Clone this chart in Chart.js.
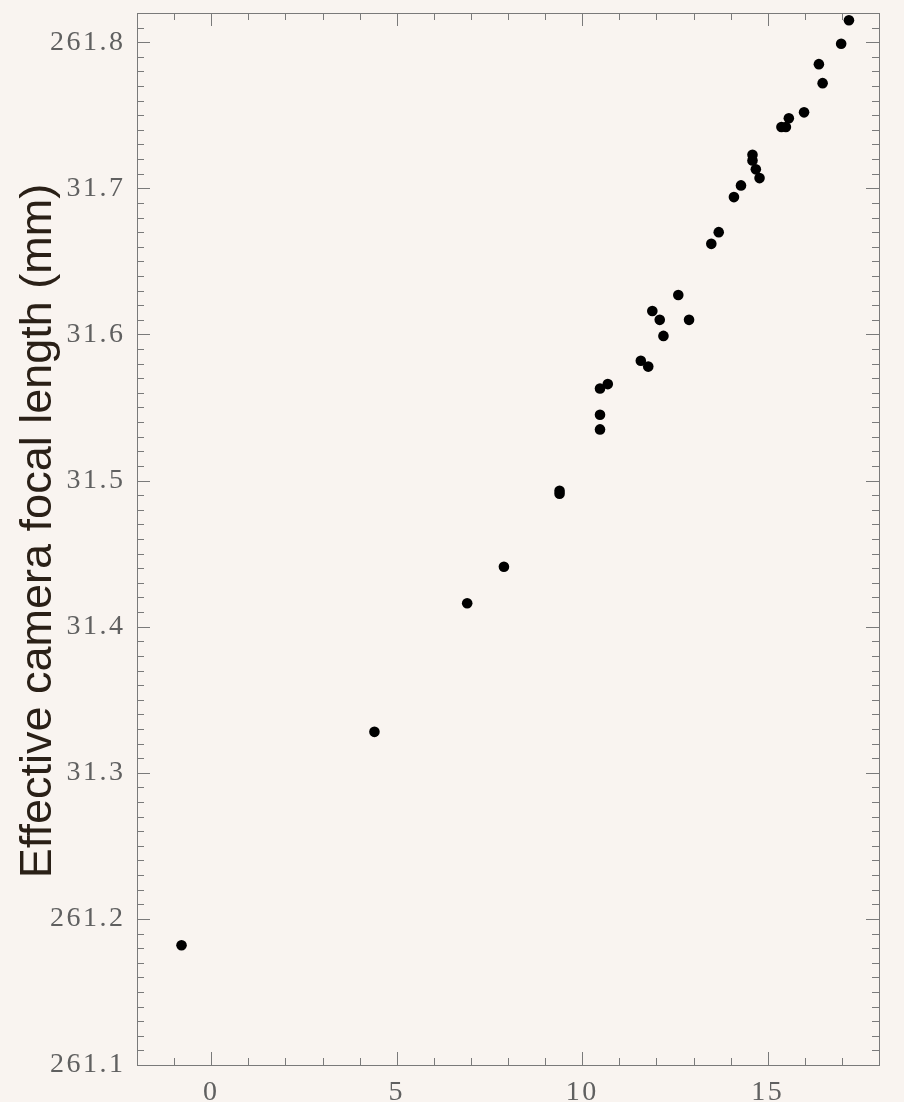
<!DOCTYPE html>
<html>
<head>
<meta charset="utf-8">
<script src="https://cdn.jsdelivr.net/npm/chart.js@4.4.1/dist/chart.umd.min.js"></script>
<style>
  html, body { margin: 0; padding: 0; background: #f9f4f0; }
  #wrap { width: 904px; height: 1102px; }
</style>
</head>
<body>
<div id="wrap"><canvas id="c" width="904" height="1102"></canvas></div>
<script>
// Temperature offset (x) against effective camera focal length (y, mm)
const xValues = [-0.80, 4.40, 6.90, 7.89, 9.39, 9.39, 10.48, 10.48, 10.48, 10.69,
  11.58, 11.78, 11.89, 12.09, 12.19, 12.59, 12.88, 13.48, 13.68, 14.09,
  14.28, 14.59, 14.59, 14.68, 14.78, 15.37, 15.49, 15.57, 15.98, 16.38,
  16.48, 16.98, 17.19];
const yValues = [261.182, 261.328, 261.416, 261.441, 261.493, 261.491, 261.535, 261.545, 261.563, 261.566,
  261.582, 261.578, 261.616, 261.610, 261.599, 261.627, 261.610, 261.662, 261.670, 261.694,
  261.702, 261.723, 261.719, 261.713, 261.707, 261.742, 261.742, 261.748, 261.752, 261.785,
  261.772, 261.799, 261.815];

const xTickValues = [0, 5, 10, 15];
const xTickLabels = ['0', '5', '10', '15'];
const yTickValues = [261.1, 261.2, 261.3, 261.4, 261.5, 261.6, 261.7, 261.8];
const yTickLabels = ['261.1', '261.2', '31.3', '31.4', '31.5', '31.6', '31.7', '261.8'];
const yAxisTitle = 'Effective camera focal length (mm)';

const points = xValues.map((x, i) => ({ x: x, y: yValues[i] }));

// Wider tracking for the numeric tick labels
const spacingPlugin = {
  id: 'spacing',
  beforeDraw(chart) { chart.ctx.letterSpacing = '2.5px'; }
};

// Frame with inward major/minor ticks on all four sides, plus the y title
const framePlugin = {
  id: 'frame',
  afterDraw(chart) {
    const ctx = chart.ctx;
    const a = chart.chartArea;
    const xs = chart.scales.x, ys = chart.scales.y;
    ctx.save();
    ctx.letterSpacing = '0px';
    ctx.strokeStyle = '#7a7a7a';
    ctx.lineWidth = 1;
    ctx.strokeRect(Math.round(a.left) + 0.5, Math.round(a.top) + 0.5,
      Math.round(a.right - a.left), Math.round(a.bottom - a.top));
    ctx.beginPath();
    for (let i = -2; i <= 18; i++) {
      const px = Math.round(xs.getPixelForValue(i)) + 0.5;
      const len = (i % 5 === 0) ? 13 : 7;
      ctx.moveTo(px, a.bottom); ctx.lineTo(px, a.bottom - len);
      ctx.moveTo(px, a.top); ctx.lineTo(px, a.top + len);
    }
    for (let j = 0; j <= 72; j++) {
      const py = Math.round(ys.getPixelForValue(261.1 + j * 0.01)) + 0.5;
      const len = (j % 10 === 0) ? 13 : 7;
      ctx.moveTo(a.left, py); ctx.lineTo(a.left + len, py);
      ctx.moveTo(a.right, py); ctx.lineTo(a.right - len, py);
    }
    ctx.stroke();

    ctx.translate(51, 531);
    ctx.rotate(-Math.PI / 2);
    ctx.fillStyle = '#2a2017';
    ctx.font = '45px "Liberation Sans", Arial, sans-serif';
    ctx.textAlign = 'center';
    ctx.textBaseline = 'alphabetic';
    ctx.fillText(yAxisTitle, 0, 0);
    ctx.restore();
  }
};

const tickFont = { family: '"Liberation Serif", serif', size: 28 };

new Chart(document.getElementById('c'), {
  type: 'scatter',
  data: {
    datasets: [{
      data: points,
      backgroundColor: '#000000',
      borderWidth: 0,
      pointRadius: 5.3,
      pointHoverRadius: 5.3
    }]
  },
  options: {
    responsive: false,
    animation: false,
    events: [],
    layout: { padding: { left: 0, right: 25, top: 13, bottom: 0 } },
    plugins: { legend: { display: false }, tooltip: { enabled: false } },
    scales: {
      x: {
        type: 'linear',
        min: -2, max: 18,
        grid: { display: false, drawTicks: false },
        border: { display: false },
        afterBuildTicks(scale) { scale.ticks = xTickValues.map(v => ({ value: v })); },
        afterFit(scale) { scale.height = 37; scale.paddingLeft = 0; scale.paddingRight = 0; },
        ticks: {
          autoSkip: false, maxRotation: 0,
          padding: 11,
          color: '#606060',
          font: tickFont,
          callback(value) { const k = xTickValues.indexOf(value); return k >= 0 ? xTickLabels[k] : ''; }
        }
      },
      y: {
        type: 'linear',
        min: 261.1, max: 261.82,
        grid: { display: false, drawTicks: false },
        border: { display: false },
        afterBuildTicks(scale) { scale.ticks = yTickValues.map(v => ({ value: v })); },
        afterFit(scale) { scale.width = 137; scale.paddingTop = 0; scale.paddingBottom = 0; },
        ticks: {
          autoSkip: false,
          padding: 11.5,
          color: '#606060',
          font: tickFont,
          callback(value) {
            const k = yTickValues.findIndex(v => Math.abs(v - value) < 1e-6);
            return k >= 0 ? yTickLabels[k] : '';
          }
        }
      }
    }
  },
  plugins: [spacingPlugin, framePlugin]
});
</script>
</body>
</html>
